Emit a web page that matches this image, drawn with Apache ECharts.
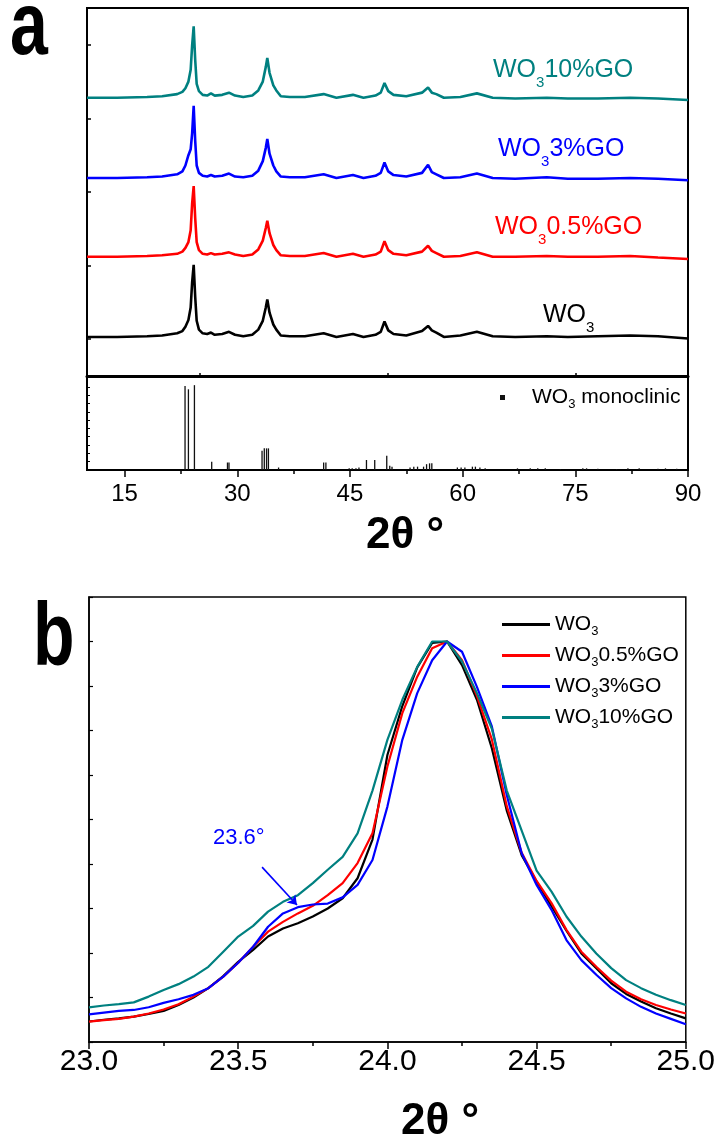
<!DOCTYPE html>
<html><head><meta charset="utf-8">
<script src="https://cdn.jsdelivr.net/npm/echarts@6/dist/echarts.min.js"></script>
<style>html,body{margin:0;padding:0;background:#fff}#c{width:718px;height:1144px}</style>
</head><body><div id="c"></div>
<script>
// ---------- DATA ----------
const sampleNames = ['WO3', 'WO3 0.5%GO', 'WO3 3%GO', 'WO3 10%GO'];
const sampleLabels = ['WO{s|3}', 'WO{s|3}0.5%GO', 'WO{s|3}3%GO', 'WO{s|3}10%GO'];
const sampleColors = ['#000000', '#ff0000', '#0000ff', '#008080'];

// panel a: full XRD patterns (stacked, offset intensity units)
const thetaA = [10,14,18,20,22,22.7,23.1,23.5,23.8,24.0,24.2,24.4,24.6,24.9,25.4,26.0,26.5,27.0,28.0,28.9,29.7,30.8,32.0,32.8,33.4,33.8,34.0,34.3,34.8,35.2,35.8,37.0,39.0,41.5,43.2,45.4,46.8,48.4,49.1,49.6,50.1,50.8,52.5,54.6,55.4,55.9,56.5,57.5,59.7,61.9,64.0,67.0,71.2,74.0,78.0,82.3,86.0,90.0];
const xrdWO3 = [0.53,0.53,0.54,0.55,0.58,0.61,0.67,0.76,0.93,1.28,1.51,1.08,0.75,0.63,0.58,0.57,0.59,0.56,0.57,0.60,0.56,0.54,0.56,0.63,0.75,0.93,1.04,0.86,0.70,0.63,0.55,0.54,0.54,0.58,0.53,0.57,0.53,0.56,0.60,0.74,0.62,0.57,0.55,0.61,0.68,0.62,0.59,0.53,0.55,0.60,0.54,0.53,0.54,0.53,0.54,0.55,0.54,0.51];
const xrdWO3_05GO = [1.62,1.62,1.63,1.64,1.66,1.69,1.74,1.82,1.98,2.35,2.58,2.15,1.82,1.71,1.66,1.65,1.67,1.65,1.66,1.68,1.65,1.63,1.65,1.72,1.84,2.01,2.11,1.94,1.78,1.71,1.64,1.63,1.63,1.67,1.62,1.66,1.62,1.65,1.69,1.83,1.71,1.66,1.64,1.69,1.77,1.70,1.67,1.62,1.63,1.68,1.62,1.62,1.63,1.62,1.62,1.63,1.61,1.59];
const xrdWO3_3GO = [2.69,2.69,2.70,2.71,2.74,2.78,2.86,3.00,3.08,3.30,3.67,3.20,2.86,2.76,2.72,2.71,2.73,2.71,2.72,2.75,2.71,2.70,2.72,2.79,2.92,3.10,3.22,3.02,2.86,2.78,2.71,2.70,2.70,2.74,2.69,2.73,2.69,2.72,2.76,2.90,2.78,2.73,2.71,2.76,2.87,2.77,2.74,2.69,2.70,2.75,2.69,2.68,2.70,2.68,2.68,2.69,2.68,2.66];
const xrdWO3_10GO = [3.78,3.78,3.79,3.80,3.83,3.86,3.91,4.00,4.16,4.50,4.75,4.30,3.97,3.87,3.82,3.81,3.84,3.81,3.82,3.85,3.81,3.79,3.81,3.88,4.00,4.20,4.32,4.12,3.95,3.88,3.80,3.79,3.79,3.83,3.78,3.82,3.78,3.81,3.85,3.98,3.87,3.82,3.80,3.85,3.92,3.85,3.83,3.78,3.79,3.84,3.78,3.77,3.78,3.77,3.77,3.78,3.77,3.75];

// panel a: reference pattern (WO3 monoclinic sticks)
const refName = 'WO3 monoclinic';
const refTheta = [23.05,23.5,24.3,26.6,28.7,28.9,33.3,33.6,33.9,34.15,35.5,41.5,41.8,44.9,45.3,45.8,46.2,47.2,48.3,49.9,50.3,50.6,53.0,53.5,54.0,54.8,55.2,55.6,55.9,59.3,59.8,60.3,61.3,61.7,62.3,63.0,67.3,69.0,70.0,71.0,73.0,76.0,76.5,78.0,80.5,82.0,83.5,86.0,87.0,88.5];
const refIntensity = [10.1,9.7,10.2,1.0,0.9,0.9,2.3,2.6,2.6,2.6,0.3,0.9,0.9,0.2,0.2,0.2,0.3,1.2,1.2,1.7,0.5,0.4,0.3,0.4,0.4,0.4,0.7,0.8,0.8,0.3,0.3,0.3,0.4,0.4,0.3,0.2,0.2,0.2,0.2,0.2,0.1,0.2,0.2,0.15,0.1,0.2,0.2,0.15,0.2,0.15];

const ticksA = [15, 30, 45, 60, 75, 90];
const minorTicksA = [22.5, 37.5, 52.5, 67.5, 82.5];
const upperTicksA = [25, 50, 75];
const upperYTicks = [0.5, 1.5, 2.5, 3.5, 4.5];
const refYTicks = [1, 2, 3, 4, 5, 6, 7, 8, 9, 10];

// panel b: main peak detail
const thetaB = [23.00,23.05,23.10,23.15,23.20,23.25,23.30,23.35,23.40,23.45,23.50,23.55,23.60,23.65,23.70,23.75,23.80,23.85,23.90,23.95,24.00,24.05,24.10,24.15,24.20,24.25,24.30,24.35,24.40,24.45,24.50,24.55,24.60,24.65,24.70,24.75,24.80,24.85,24.90,24.95,25.00];
const peakWO3 = [0.46,0.50,0.53,0.57,0.63,0.70,0.83,1.00,1.21,1.48,1.80,2.07,2.37,2.55,2.67,2.82,3.00,3.23,3.68,4.55,6.45,7.55,8.42,8.97,9.00,8.47,7.69,6.60,5.20,4.20,3.60,3.05,2.50,1.99,1.66,1.32,1.08,0.91,0.76,0.64,0.53];
const peakWO3_05GO = [0.46,0.49,0.52,0.57,0.64,0.73,0.85,1.02,1.21,1.47,1.78,2.14,2.48,2.70,2.89,3.06,3.30,3.57,4.02,4.69,6.19,7.39,8.21,8.85,9.00,8.58,7.78,6.80,5.30,4.25,3.62,3.12,2.52,2.03,1.69,1.38,1.13,0.96,0.83,0.73,0.64];
const peakWO3_3GO = [0.62,0.66,0.70,0.72,0.78,0.88,0.96,1.06,1.21,1.47,1.78,2.14,2.59,2.89,3.03,3.09,3.11,3.25,3.53,4.09,5.29,6.79,7.84,8.58,9.00,8.77,7.98,7.09,5.55,4.24,3.53,2.97,2.29,1.84,1.51,1.21,0.98,0.79,0.64,0.52,0.40];
const peakWO3_10GO = [0.78,0.82,0.85,0.89,1.02,1.17,1.30,1.47,1.69,2.03,2.37,2.61,2.93,3.15,3.30,3.57,3.87,4.16,4.69,5.65,6.79,7.69,8.43,9.00,9.00,8.55,7.84,7.04,5.65,4.75,3.85,3.38,2.82,2.37,1.99,1.66,1.39,1.21,1.06,0.94,0.83];

// annotation arrow (data coords) and its text
const shoulderArrow = [[23.58, 3.93], [23.697, 3.08]];
const shoulderText = '23.6°';
const axisTitle = '2θ °';

// ---------- CHART ----------
const FONT = '"Liberation Sans", Arial, Helvetica, sans-serif';
const xrdA = [xrdWO3, xrdWO3_05GO, xrdWO3_3GO, xrdWO3_10GO];
const peaksB = [peakWO3, peakWO3_05GO, peakWO3_3GO, peakWO3_10GO];
const labelMap = {};
sampleNames.forEach((n, i) => labelMap[n] = sampleLabels[i]);
const black = '#000';

const series = [];
xrdA.forEach((arr, i) => {
  series.push({
    type: 'line', name: 'a ' + sampleNames[i], xAxisIndex: 0, yAxisIndex: 0,
    data: thetaA.map((t, k) => [t, arr[k]]),
    showSymbol: false, symbol: 'none', color: sampleColors[i],
    lineStyle: { width: 2.6, color: sampleColors[i] }
  });
});
series.push({
  type: 'bar', name: refName, xAxisIndex: 1, yAxisIndex: 1,
  data: refTheta.map((t, k) => [t, refIntensity[k]]),
  barWidth: 1.3, itemStyle: { color: '#111' }, color: '#000'
});
peaksB.forEach((arr, i) => {
  const s = {
    type: 'line', name: sampleNames[i], xAxisIndex: 3, yAxisIndex: 2,
    data: thetaB.map((t, k) => [t, arr[k]]),
    symbol: 'none', showSymbol: false, color: sampleColors[i],
    lineStyle: { width: 2.2, color: sampleColors[i] }
  };
  if (i === 2) {
    s.markLine = {
      silent: true, symbol: ['none', 'arrow'], symbolSize: 9,
      label: { show: false },
      lineStyle: { color: sampleColors[2], width: 1.6, type: 'solid' },
      data: [[{ coord: shoulderArrow[0] }, { coord: shoulderArrow[1] }]]
    };
  }
  series.push(s);
});

const subRichA = { s: { fontSize: 15, lineHeight: 15, padding: [24, 0, 0, 0], fontFamily: FONT } };
const labelPosA = [[543, 303], [495, 215], [498, 137], [493, 58]];
const graphics = [
  { type: 'text', x: 10, y: 30, scaleY: 1.3, style: { text: 'a', font: 'bold 68px ' + FONT, fill: '#000', verticalAlign: 'middle' } },
  { type: 'text', x: 33, y: 641, scaleY: 1.3, style: { text: 'b', font: 'bold 68px ' + FONT, fill: '#000', verticalAlign: 'middle' } },
  { type: 'text', x: 405, y: 536, style: { text: axisTitle, font: 'bold 44px ' + FONT, fill: '#000', align: 'center', verticalAlign: 'middle' } },
  { type: 'text', x: 440, y: 1122, style: { text: axisTitle, font: 'bold 44px ' + FONT, fill: '#000', align: 'center', verticalAlign: 'middle' } },
  { type: 'text', x: 213, y: 838, style: { text: shoulderText, font: '22px ' + FONT, fill: sampleColors[2], align: 'left', verticalAlign: 'middle' } }
];
sampleLabels.forEach((t, i) => {
  graphics.push({ type: 'text', x: labelPosA[i][0], y: labelPosA[i][1],
    style: { text: t, fontSize: 25, fontFamily: FONT, fill: sampleColors[i], align: 'left', verticalAlign: 'top', rich: subRichA } });
});

const option = {
  animation: false,
  backgroundColor: '#fff',
  grid: [
    { left: 87, top: 8, width: 601, height: 368, show: true, borderColor: black, borderWidth: 2, backgroundColor: 'transparent' },
    { left: 87, top: 376, width: 601, height: 94, show: true, borderColor: black, borderWidth: 2, backgroundColor: 'transparent' },
    { left: 89, top: 597, width: 599, height: 445, show: true, borderColor: black, borderWidth: 1.5, backgroundColor: 'transparent' }
  ],
  xAxis: [
    { gridIndex: 0, type: 'value', position: 'bottom', min: 10, max: 90,
      axisLine: { lineStyle: { color: black, width: 3 } },
      axisTick: { inside: true, length: 3, customValues: upperTicksA, lineStyle: { color: black, width: 1.5 } },
      axisLabel: { show: false }, splitLine: { show: false } },
    { gridIndex: 1, type: 'value', position: 'bottom', min: 10, max: 90,
      axisLine: { lineStyle: { color: black, width: 2 } },
      axisTick: { length: 7, customValues: ticksA, lineStyle: { color: black, width: 1.5 } },
      axisLabel: { customValues: ticksA, fontSize: 24, color: black, fontFamily: FONT, margin: 12 },
      splitLine: { show: false } },
    { gridIndex: 1, type: 'value', position: 'bottom', min: 10, max: 90,
      axisLine: { show: false },
      axisTick: { length: 4, customValues: minorTicksA, lineStyle: { color: black, width: 1.5 } },
      axisLabel: { show: false }, splitLine: { show: false } },
    { gridIndex: 2, type: 'value', position: 'bottom', min: 23, max: 25, interval: 0.5,
      axisLine: { lineStyle: { color: black, width: 1.5 } },
      axisTick: { length: 7, lineStyle: { color: black, width: 1.5 } },
      minorTick: { show: true, splitNumber: 2, length: 4, lineStyle: { color: black, width: 1.5 } },
      axisLabel: { fontSize: 30, color: black, fontFamily: FONT, margin: 5, formatter: v => v.toFixed(1) },
      splitLine: { show: false } }
  ],
  yAxis: [
    { gridIndex: 0, type: 'value', position: 'left', min: 0, max: 5,
      axisLine: { show: true, lineStyle: { color: black, width: 2 } },
      axisTick: { show: true, inside: true, length: 4, customValues: upperYTicks, lineStyle: { color: black, width: 1.5 } },
      axisLabel: { show: false }, splitLine: { show: false } },
    { gridIndex: 1, type: 'value', position: 'left', min: 0, max: 11.3,
      axisLine: { show: true, lineStyle: { color: black, width: 2 } },
      axisTick: { show: true, inside: true, length: 3, customValues: refYTicks, lineStyle: { color: black, width: 1 } },
      axisLabel: { show: false }, splitLine: { show: false } },
    { gridIndex: 2, type: 'value', position: 'left', min: 0, max: 10, interval: 1,
      axisLine: { show: true, lineStyle: { color: black, width: 1.5 } },
      axisTick: { show: true, inside: true, length: 4, lineStyle: { color: black, width: 1.2 } },
      axisLabel: { show: false }, splitLine: { show: false } }
  ],
  legend: [
    { data: sampleNames.map(n => ({ name: n, icon: 'rect' })), orient: 'vertical', left: 497, top: 606,
      itemWidth: 48, itemHeight: 3, itemGap: 4,
      textStyle: { fontSize: 21, color: black, fontFamily: FONT,
        rich: { s: { fontSize: 13, lineHeight: 13, padding: [14, 0, 0, 0], fontFamily: FONT } } },
      formatter: n => labelMap[n] },
    { data: [refName], orient: 'vertical', left: 495, top: 379, itemWidth: 5, itemHeight: 5, icon: 'rect',
      textStyle: { fontSize: 21, color: black, fontFamily: FONT,
        rich: { sp: { width: 22 }, s: { fontSize: 13, lineHeight: 13, padding: [14, 0, 0, 0], fontFamily: FONT } } },
      formatter: () => '{sp|}WO{s|3} monoclinic' }
  ],
  graphic: graphics,
  series: series
};

const chart = echarts.init(document.getElementById('c'), null, { renderer: 'canvas' });
chart.setOption(option);
</script>
</body></html>
